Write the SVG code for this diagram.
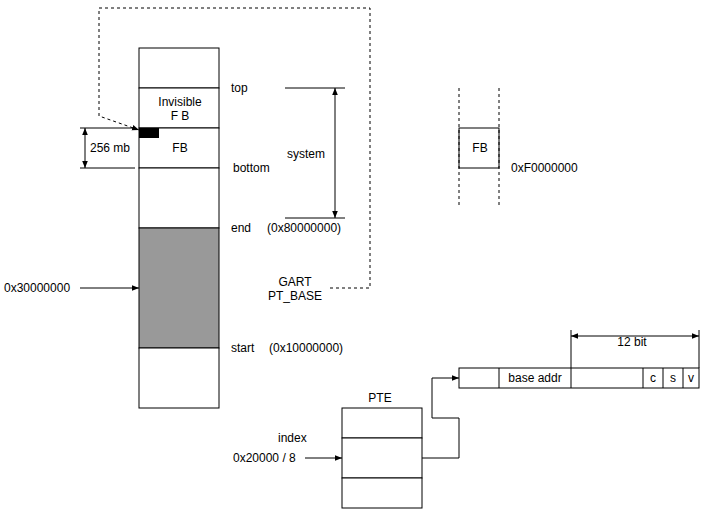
<svg xmlns="http://www.w3.org/2000/svg" width="703" height="510" viewBox="0 0 703 510">
<style>
text{font-family:"Liberation Sans",Arial,sans-serif;font-size:12px;fill:#000}
.c{text-anchor:middle}
.b{fill:#fff;stroke:#000;stroke-width:1}
.l{fill:none;stroke:#000;stroke-width:1}
.d{fill:none;stroke:#000;stroke-width:1;stroke-dasharray:3,3}
</style>
<defs>
<marker id="a" viewBox="0 0 10 10" refX="10" refY="5" markerWidth="7" markerHeight="7" orient="auto-start-reverse"><path d="M0,1 L10,5 L0,9 Z" fill="#000"/></marker>
</defs>
<rect width="703" height="510" fill="#fff"/>
<g id="memory">
<rect class="b" x="139" y="48" width="80" height="40"/>
<rect class="b" x="139" y="88" width="80" height="40"/>
<rect class="b" x="139" y="128" width="80" height="40"/>
<rect class="b" x="139" y="168" width="80" height="60"/>
<rect x="139" y="228" width="80" height="120" fill="#999" stroke="#000"/>
<rect class="b" x="139" y="348" width="80" height="60"/>
<rect x="139" y="128" width="20" height="10" fill="#000"/>
<text class="c" x="180" y="106">Invisible</text>
<text class="c" x="180" y="120">F B</text>
<text class="c" x="180" y="152">FB</text>
</g>
<g id="labels">
<text x="231" y="92">top</text>
<text x="233" y="172">bottom</text>
<text x="231" y="232">end</text>
<text x="267" y="232">(0x80000000)</text>
<text x="231" y="352">start</text>
<text x="269" y="352">(0x10000000)</text>
<text x="287" y="158">system</text>
<text class="c" x="295" y="286">GART</text>
<text class="c" x="295" y="300">PT_BASE</text>
<text x="90" y="152">256 mb</text>
<text x="4" y="292">0x30000000</text>
<text x="511" y="172">0xF0000000</text>
<text x="233" y="462">0x20000 / 8</text>
<text x="278" y="442">index</text>
<text class="c" x="380" y="402">PTE</text>
<text class="c" x="632" y="346">12 bit</text>
</g>
<g id="fb2">
<rect class="b" x="459" y="128" width="40" height="40"/>
<text class="c" x="480" y="152">FB</text>
</g>
<g id="pte">
<rect class="b" x="342" y="408" width="80" height="30"/>
<rect class="b" x="342" y="438" width="80" height="40"/>
<rect class="b" x="342" y="478" width="80" height="30"/>
</g>
<g id="entry">
<rect class="b" x="459" y="368" width="240" height="20"/>
<path class="l" d="M499,368V388M571,368V388M643,368V388M663,368V388M683,368V388"/>
<text class="c" x="535" y="382">base addr</text>
<text class="c" x="653" y="382">c</text>
<text class="c" x="673" y="382">s</text>
<text class="c" x="691" y="382">v</text>
</g>
<g id="connectors">
<path class="d" d="M330,288H370V8H99V116L139,130" marker-end="url(#a)"/>
<path class="l" d="M80,128H135M80,168H135"/>
<path class="l" d="M85,128V168" marker-start="url(#a)" marker-end="url(#a)"/>
<path class="l" d="M285,88H345M285,218H345"/>
<path class="l" d="M335,88V218" marker-start="url(#a)" marker-end="url(#a)"/>
<path class="d" d="M459,88V208M499,88V208"/>
<path class="l" d="M80,288H139" marker-end="url(#a)"/>
<path class="l" d="M305,458H342" marker-end="url(#a)"/>
<path class="l" d="M422,458H459V418H432V378H459" marker-end="url(#a)"/>
<path class="l" d="M571,330V368M699,330V368"/>
<path class="l" d="M571,336H699" marker-start="url(#a)" marker-end="url(#a)"/>
</g>
</svg>
